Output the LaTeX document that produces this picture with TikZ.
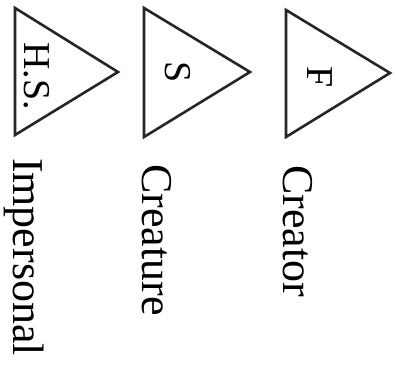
\documentclass[tikz,border=0pt]{standalone}
\usepackage{fontspec}
\setmainfont{Liberation Serif}
\begin{document}
\begin{tikzpicture}[x=1pt,y=-1pt,
  tri/.style={draw=black!85, line width=2.6pt, line join=miter},
  label/.style={rotate=-90, anchor=base, inner sep=0pt, font=\fontsize{44}{44}\selectfont},
  inner/.style={rotate=-90, anchor=center, inner sep=0pt, font=\fontsize{38}{38}\selectfont}]
\useasboundingbox (0,0) rectangle (396,364);
% triangles
\draw[tri] (15,8) -- (118,72) -- (15,135) -- cycle;
\draw[tri] (144,8) -- (250,72) -- (144,137) -- cycle;
\draw[tri] (286,10) -- (390,73) -- (286,137) -- cycle;
% letters in triangles
\node[inner] (hs) at (37,76) {H.S.};
\node[inner] (s) at (178,72) {S};
\node[inner] (f) at (320,77) {F};
% labels
\node[label] (imp) at (13,257) {Impersonal};
\node[label] (cre) at (142,240) {Creature};
\node[label] (cor) at (283,231) {Creator};
\end{tikzpicture}
\end{document}
